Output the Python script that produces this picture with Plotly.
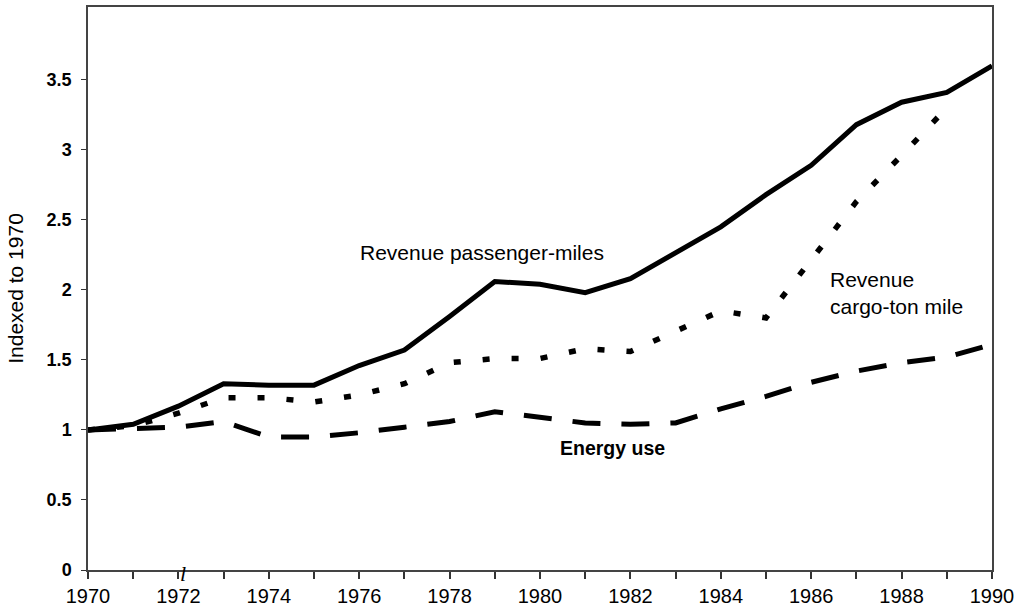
import plotly.graph_objects as go

years = list(range(1970, 1991))
passenger_miles = [1.00, 1.04, 1.17, 1.33, 1.32, 1.32, 1.46, 1.57, 1.81, 2.06, 2.04,
                   1.98, 2.08, 2.26, 2.45, 2.68, 2.89, 3.18, 3.34, 3.41, 3.60]
cargo_ton_miles = [1.00, 1.03, 1.12, 1.23, 1.23, 1.20, 1.25, 1.33, 1.48, 1.51, 1.51,
                   1.58, 1.56, 1.70, 1.85, 1.80, 2.21, 2.63, 2.96, 3.30, None]
energy_use = [1.00, 1.01, 1.02, 1.06, 0.95, 0.95, 0.98, 1.02, 1.06, 1.13, 1.09,
              1.05, 1.04, 1.05, 1.15, 1.24, 1.34, 1.42, 1.48, 1.52, 1.61]

y_ticks = [0, 0.5, 1, 1.5, 2, 2.5, 3, 3.5]
x_ticktext = [str(y) if y % 2 == 0 else "" for y in years]

FONT = "Liberation Sans, Arial, sans-serif"

fig = go.Figure()
fig.add_trace(go.Scatter(x=years, y=energy_use, mode="lines", name="Energy use",
                         line=dict(color="black", width=5, dash="28px,21px")))
fig.add_trace(go.Scatter(x=years, y=cargo_ton_miles, mode="lines", name="Revenue cargo-ton mile",
                         line=dict(color="black", width=5.5, dash="7px,22px")))
fig.add_trace(go.Scatter(x=years, y=passenger_miles, mode="lines", name="Revenue passenger-miles",
                         line=dict(color="black", width=5)))

fig.add_annotation(x=1975.97, y=2.27, xref="x", yref="y", text="Revenue passenger-miles",
                   showarrow=False, xanchor="left", yanchor="middle",
                   font=dict(family=FONT, size=21, color="black"))
fig.add_annotation(x=1986.37, y=1.975, xref="x", yref="y", text="Revenue<br>cargo-ton mile",
                   showarrow=False, xanchor="left", yanchor="middle", align="left",
                   font=dict(family=FONT, size=21, color="black"))
fig.add_annotation(x=1980.4, y=0.87, xref="x", yref="y", text="<b>Energy use</b>",
                   showarrow=False, xanchor="left", yanchor="middle",
                   font=dict(family=FONT, size=19.5, color="black"))
fig.add_annotation(x=1972.1, y=0, xref="x", yref="y", yshift=-3, text="<i>l</i>",
                   showarrow=False, xanchor="center", yanchor="middle",
                   font=dict(family="Liberation Serif, serif", size=22, color="black"))

fig.update_layout(
    width=1019, height=611,
    margin=dict(l=88, r=27, t=7, b=41),
    paper_bgcolor="white", plot_bgcolor="white",
    showlegend=False,
    font=dict(family=FONT, color="black"),
    xaxis=dict(range=[1970, 1990], tickmode="array", tickvals=years, ticktext=x_ticktext,
               ticks="outside", ticklen=7, tickwidth=1.5, tickcolor="#333",
               showline=True, linecolor="#444", linewidth=1.5, mirror=True,
               showgrid=False, zeroline=False, automargin=False,
               tickfont=dict(family=FONT, size=20, color="black")),
    yaxis=dict(range=[0, 4.02], tickmode="array", tickvals=y_ticks,
               ticktext=[("%g" % v) for v in y_ticks],
               ticks="outside", ticklen=5, tickwidth=1, tickcolor="#333",
               showline=True, linecolor="#444", linewidth=1.5, mirror=True,
               showgrid=False, zeroline=False, ticklabelstandoff=6, automargin=False,
               tickfont=dict(family=FONT, size=18, color="black", weight="bold"),
               title=dict(text="Indexed to 1970", standoff=17,
                          font=dict(family=FONT, size=21, color="black"))),
)

fig.write_html("out.html", config={"displayModeBar": False},
               post_script="document.body.style.margin='0';document.body.style.overflow='hidden';")
